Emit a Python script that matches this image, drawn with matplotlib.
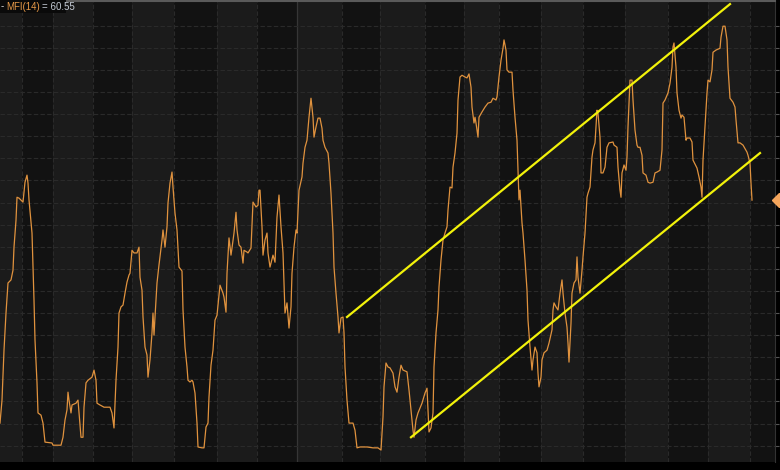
import matplotlib
matplotlib.use("Agg")
import matplotlib.pyplot as plt

# bar position (chart units) and MFI(14) value
t = [0, 2, 4, 6, 8, 11, 13, 14, 16, 17, 19, 23, 25, 27, 28, 29, 32, 33, 34, 35, 37, 38, 41, 43, 45, 52, 53, 61,
     63, 65, 67, 68, 69, 71, 72, 76, 78, 79, 81, 83, 84, 86, 88, 92, 94, 96, 97, 100, 104, 110, 112, 114, 116,
     118, 119, 121, 123, 125, 127, 129, 130, 132, 134, 137, 139, 140, 142, 143, 145, 147, 148, 150, 152, 153,
     154, 155, 157, 159, 162, 163, 165, 167, 168, 170, 172, 173, 175, 177, 179, 182, 183, 185, 187, 188, 190,
     192, 193, 195, 197, 198, 202, 204, 206, 208, 209, 211, 213, 215, 217, 220, 223, 224, 226, 227, 229, 231,
     232, 234, 236, 237, 239, 241, 243, 244, 247, 248, 251, 253, 256, 258, 259, 260, 262, 263, 265, 267, 268,
     270, 273, 275, 277, 279, 281, 283, 284, 285, 287, 289, 291, 292, 294, 296, 297, 299, 302, 303, 305, 307,
     309, 311, 313, 314, 316, 318, 320, 322, 323, 325, 328, 329, 331, 333, 334, 336, 338, 339, 341, 343, 344,
     345, 347, 349, 353, 355, 357, 360, 367, 373, 378, 381, 383, 384, 386, 388, 390, 393, 395, 397, 399, 401,
     403, 407, 409, 411, 413, 414, 416, 418, 422, 425, 427, 428, 429, 431, 433, 434, 436, 438, 439, 441, 443,
     445, 447, 448, 450, 452, 453, 455, 457, 458, 460, 462, 465, 467, 469, 471, 472, 474, 475, 476, 478, 479,
     482, 485, 488, 491, 493, 496, 497, 499, 501, 503, 504, 506, 507, 509, 512, 513, 515, 517, 518, 519, 520,
     522, 523, 525, 527, 528, 530, 532, 533, 535, 537, 538, 539, 541, 542, 544, 547, 549, 552, 553, 554, 556,
     558, 560, 562, 563, 565, 567, 568, 569, 571, 572, 574, 576, 577, 578, 580, 582, 583, 585, 587, 588, 590,
     592, 593, 595, 597, 598, 600, 601, 603, 605, 607, 609, 613, 614, 617, 618, 620, 621, 622, 624, 626, 627,
     628, 630, 632, 633, 635, 637, 638, 640, 642, 643, 646, 648, 650, 653, 655, 657, 660, 662, 663, 665, 668,
     670, 672, 673, 674, 676, 677, 679, 681, 682, 684, 686, 687, 690, 692, 693, 697, 699, 701, 702, 703, 705,
     707, 708, 710, 712, 713, 716, 718, 720, 721, 723, 725, 727, 728, 730, 733, 735, 736, 738, 740, 743, 747,
     748, 750, 751, 752]
mfi = [10.1, 15.3, 26.6, 35.0, 41.8, 42.5, 44.7, 49.9, 56.0, 61.2, 61.0, 60.1, 64.6, 66.2, 64.4, 60.6, 53.1,
       45.4, 37.9, 28.9, 19.2, 12.4, 11.9, 10.1, 5.8, 5.6, 5.1, 5.1, 6.9, 10.8, 13.1, 17.1, 15.3, 12.4, 14.2,
       14.6, 15.3, 12.4, 6.9, 6.9, 13.7, 19.2, 19.8, 20.5, 22.1, 19.8, 14.6, 14.2, 13.7, 13.7, 12.4, 9.0, 19.8,
       27.3, 35.0, 36.4, 36.8, 39.5, 42.0, 43.6, 44.0, 49.2, 48.6, 48.6, 49.9, 43.1, 40.2, 34.1, 27.3, 25.5,
       20.5, 24.4, 30.5, 35.0, 30.0, 34.1, 41.8, 45.9, 51.5, 53.8, 49.9, 54.5, 59.9, 64.4, 66.9, 63.5, 57.6,
       53.8, 45.4, 44.5, 35.7, 27.3, 22.8, 19.8, 19.4, 19.8, 19.4, 16.9, 10.1, 4.7, 4.5, 4.5, 9.2, 10.1, 16.0,
       23.2, 26.6, 33.4, 34.5, 41.3, 39.5, 38.6, 35.2, 44.0, 52.0, 48.1, 49.7, 53.1, 57.8, 53.8, 50.4, 49.9,
       46.3, 49.2, 48.8, 48.6, 49.7, 60.1, 59.0, 59.4, 62.8, 62.8, 54.5, 48.1, 51.5, 53.1, 48.6, 45.4, 48.1,
       46.5, 56.7, 61.7, 54.5, 48.6, 41.8, 35.0, 37.3, 31.6, 36.4, 44.0, 49.9, 53.8, 53.1, 62.8, 65.8, 68.9,
       72.5, 74.1, 79.3, 83.6, 79.3, 74.8, 77.1, 79.1, 79.1, 76.8, 74.1, 72.5, 71.2, 68.9, 62.1, 53.1, 45.4,
       39.5, 34.1, 30.5, 33.9, 34.1, 30.5, 22.8, 15.3, 10.1, 10.1, 8.5, 4.5, 4.7, 4.7, 4.5, 4.5, 4.0, 11.5,
       18.3, 23.7, 22.8, 22.6, 21.4, 18.3, 17.1, 20.5, 23.2, 22.1, 21.7, 17.6, 13.1, 8.5, 6.9, 10.8, 12.4,
       14.6, 16.9, 18.0, 13.1, 8.1, 9.0, 12.4, 22.8, 30.5, 35.7, 40.9, 47.0, 51.5, 53.1, 54.5, 58.3, 63.5,
       63.3, 68.0, 71.2, 75.7, 83.2, 88.4, 88.8, 88.4, 88.2, 89.1, 86.1, 81.6, 78.0, 79.3, 78.0, 74.8, 79.3,
       80.5, 81.6, 82.5, 82.7, 83.6, 83.2, 83.9, 88.4, 92.2, 94.9, 96.8, 94.5, 90.0, 89.5, 89.5, 85.4, 79.3,
       74.1, 67.3, 60.6, 62.8, 55.4, 53.1, 47.0, 40.2, 33.4, 27.3, 22.1, 24.4, 27.3, 26.0, 21.4, 18.3, 20.5,
       24.4, 26.0, 26.6, 28.2, 31.2, 35.7, 37.3, 36.4, 35.7, 39.5, 42.5, 39.5, 35.0, 31.8, 28.2, 23.9, 32.7,
       39.5, 41.8, 42.5, 47.7, 43.1, 39.5, 44.7, 47.7, 53.1, 61.2, 62.1, 63.5, 70.3, 71.9, 73.5, 80.9, 80.2,
       74.8, 66.7, 66.7, 68.0, 72.5, 73.5, 73.7, 73.0, 72.5, 68.0, 62.8, 61.2, 66.7, 68.5, 67.3, 70.3, 77.1,
       87.7, 87.7, 83.2, 76.4, 73.0, 72.5, 72.5, 70.7, 66.7, 66.2, 64.6, 64.4, 64.6, 66.7, 66.9, 67.3, 71.9,
       82.5, 83.2, 84.8, 87.0, 90.6, 95.2, 96.1, 90.6, 84.8, 80.9, 79.1, 79.8, 79.3, 74.1, 74.6, 74.6, 73.7,
       69.6, 67.8, 65.8, 63.5, 61.2, 69.6, 77.1, 84.8, 87.7, 87.3, 90.0, 94.0, 94.5, 94.7, 94.9, 97.4, 99.9,
       99.9, 96.8, 90.6, 83.6, 82.7, 81.6, 78.7, 73.5, 73.5, 73.0, 71.4, 70.7, 68.9, 64.4, 60.55]

# channel drawn on the chart (start / end)
upper_t = [347, 730]
upper_v = [34.1, 104.9]
lower_t = [411, 760]
lower_v = [6.9, 71.2]

# month boundaries for background bands
months = [0, 22, 53, 93, 132, 174, 217, 257, 297, 342, 380, 425, 464, 499, 541, 583, 625, 668, 708, 750, 775]
year_start = 297
last_value = 60.55

fig = plt.figure(figsize=(7.8, 4.7), dpi=100, facecolor="#000000")
ax = fig.add_axes([0, 8 / 470, 775 / 780, 461 / 470])
ax.set_facecolor("#121212")

for i in range(len(months) - 1):
    if i % 2 == 0:
        ax.axvspan(months[i], months[i + 1], color="#1b1b1b", lw=0, zorder=0)
for m in months[1:-1]:
    if m == year_start:
        ax.axvline(m, color="#363636", lw=0.9, zorder=1)
    else:
        ax.axvline(m, color="#2a2a2a", lw=0.8, ls=(0, (4, 2)), zorder=1)
for g in range(5, 101, 5):
    ax.axhline(g, color="#2a2a2a", lw=0.8, ls=(0, (4, 2)), zorder=1)

ax.plot(t, mfi, color="#e0923e", lw=0.9, zorder=3)
ax.plot(upper_t, upper_v, color="#f2f20a", lw=1.6, zorder=4)
ax.plot(lower_t, lower_v, color="#f2f20a", lw=1.6, zorder=4)

ax.set_xlim(0, 775)
ax.set_ylim(1.3, 105.6)
ax.set_xticks([])
ax.set_yticks(range(5, 101, 5))
ax.yaxis.tick_right()
ax.tick_params(axis="y", length=3, width=0.8, color="#555555", labelright=False, direction="out")
for s in ["left", "bottom"]:
    ax.spines[s].set_visible(False)
ax.spines["right"].set_color("#333333")
ax.spines["top"].set_color("#5a5a5a")
ax.spines["top"].set_linewidth(1.5)

ax.plot([779], [last_value], marker="D", ms=7, color="#f4a55c", clip_on=False, zorder=5)

# legend label in the top-left corner, pieces chained one after the other
ax.add_patch(plt.Rectangle((0, 0.974), 66 / 775, 0.03, transform=ax.transAxes, facecolor="#0a0a0a",
                           edgecolor="none", zorder=5, clip_on=False))
lab = dict(fontsize=7, family="Liberation Sans", va="bottom", ha="left", zorder=7)
t1 = ax.annotate("-", xy=(0.5 / 775, 0.977), xycoords="axes fraction", color="#e0e0e0", **lab)
t2 = ax.annotate("MFI(14)", xy=(1, 0), xycoords=t1, xytext=(2.5, 0), textcoords="offset pixels",
                 color="#e89a48", **lab)
t3 = ax.annotate("= 60.55", xy=(1, 0), xycoords=t2, xytext=(2, 0), textcoords="offset pixels",
                 color="#c5ccd6", **lab)

fig.savefig("out.png", dpi=100, facecolor=fig.get_facecolor())
